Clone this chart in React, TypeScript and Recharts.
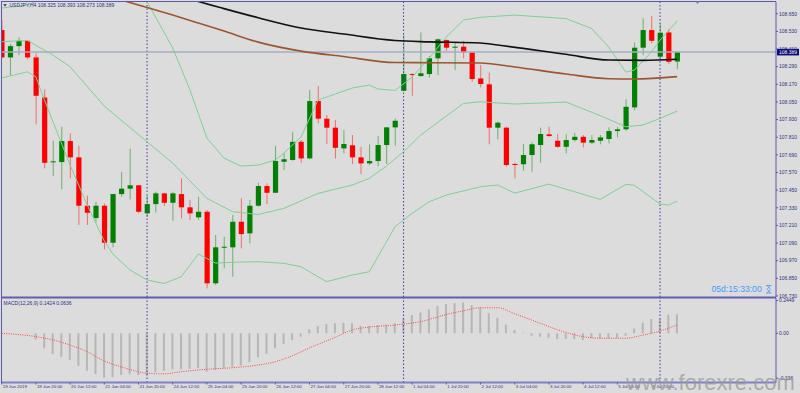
import { ComposedChart, Bar, Line, XAxis, YAxis, ReferenceLine } from "recharts";

// USDJPY H4, 19 Jun 04:00 .. 8 Jul 08:00 (80 bars)
const openP = [
  108.539, 108.353, 108.43, 108.466, 108.353, 108.08, 107.641, 107.641, 107.784, 107.673,
  107.344, 107.26, 107.344, 107.092, 107.423, 107.46, 107.483, 107.292, 107.355, 107.428,
  107.364, 107.423, 107.333, 107.265, 107.303, 106.816, 107.061, 107.061, 107.235, 107.156,
  107.344, 107.478, 107.432, 107.643, 107.655, 107.779, 107.666, 108.056, 107.936, 107.875,
  107.734, 107.755, 107.673, 107.632, 107.648, 107.757, 107.877, 108.126, 108.24, 108.226,
  108.24, 108.347, 108.471, 108.419, 108.426, 108.387, 108.21, 108.17, 107.875, 107.875,
  107.628, 107.626, 107.689, 107.757, 107.83, 107.786, 107.745, 107.791, 107.813, 107.773,
  107.786, 107.798, 107.852, 107.864, 108.013, 108.419, 108.539, 108.358, 108.523, 108.325,
];
const highP = [
  108.607, 108.444, 108.49, 108.471, 108.381, 108.136, 107.786, 107.881, 107.836, 107.752,
  107.412, 107.371, 107.36, 107.425, 107.573, 107.732, 107.485, 107.41, 107.439, 107.432,
  107.439, 107.53, 107.383, 107.405, 107.315, 107.145, 107.133, 107.281, 107.394, 107.383,
  107.5, 107.496, 107.752, 107.7, 107.847, 107.791, 108.131, 108.158, 107.961, 107.927,
  107.859, 107.825, 107.745, 107.762, 107.818, 107.879, 107.936, 108.505, 108.245, 108.523,
  108.362, 108.483, 108.476, 108.453, 108.466, 108.392, 108.301, 108.249, 107.915, 107.881,
  107.636, 107.764, 107.775, 107.875, 107.881, 107.832, 107.83, 107.84, 107.825, 107.825,
  107.825, 107.877, 107.881, 108.068, 108.453, 108.619, 108.634, 108.585, 108.546, 108.393,
];
const lowP = [
  108.35, 108.233, 108.369, 108.34, 107.898, 107.598, 107.546, 107.456, 107.53, 107.213,
  107.213, 107.228, 107.047, 107.061, 107.405, 107.387, 107.292, 107.269, 107.299, 107.342,
  107.242, 107.258, 107.247, 107.247, 106.782, 106.804, 106.918, 106.861, 107.054, 107.088,
  107.337, 107.355, 107.43, 107.587, 107.65, 107.636, 107.66, 107.904, 107.764, 107.664,
  107.7, 107.628, 107.558, 107.621, 107.614, 107.628, 107.752, 108.124, 108.092, 108.223,
  108.217, 108.233, 108.398, 108.267, 108.347, 108.187, 108.149, 107.762, 107.796, 107.609,
  107.53, 107.582, 107.575, 107.636, 107.813, 107.738, 107.7, 107.779, 107.741, 107.764,
  107.762, 107.768, 107.809, 107.854, 107.995, 108.369, 108.449, 108.347, 108.308, 108.273,
];
const closeP = [
  108.353, 108.43, 108.466, 108.353, 108.092, 107.636, 107.646, 107.784, 107.673, 107.344,
  107.296, 107.344, 107.092, 107.423, 107.46, 107.483, 107.303, 107.355, 107.428, 107.364,
  107.428, 107.333, 107.292, 107.303, 106.816, 107.061, 107.065, 107.235, 107.151, 107.344,
  107.478, 107.432, 107.648, 107.66, 107.779, 107.666, 108.056, 107.936, 107.875, 107.738,
  107.764, 107.673, 107.632, 107.648, 107.757, 107.877, 107.922, 108.24, 108.235, 108.245,
  108.347, 108.476, 108.419, 108.426, 108.387, 108.206, 108.172, 107.875, 107.909, 107.621,
  107.623, 107.689, 107.762, 107.832, 107.818, 107.745, 107.791, 107.813, 107.773, 107.791,
  107.809, 107.852, 107.864, 108.017, 108.419, 108.539, 108.466, 108.521, 108.323, 108.389,
];

// indicator lines read at some bars: [bar, value]
const maBlack: [number, number][] = [
  [22, 108.753], [23, 108.734], [26, 108.685], [30, 108.623], [35, 108.553], [40, 108.512],
  [46, 108.468], [50, 108.459], [56, 108.451], [58, 108.437], [66, 108.374], [71, 108.335],
  [75, 108.333], [79, 108.34],
];
const maBrown: [number, number][] = [
  [14, 108.743], [17, 108.693], [20, 108.641], [23, 108.587], [26, 108.532], [30, 108.457],
  [35, 108.396], [40, 108.359], [46, 108.318], [50, 108.317], [56, 108.315], [60, 108.288],
  [66, 108.24], [71, 108.208], [74, 108.206], [79, 108.222],
];
const bbUpper: [number, number][] = [
  [0, 108.689], [3, 108.709], [5, 108.757], [8, 108.845], [12, 108.913], [15, 108.845],
  [17, 108.732], [20, 108.417], [22, 108.135], [24, 107.804], [26, 107.668], [28, 107.614],
  [30, 107.621], [32, 107.655], [33, 107.702], [35, 107.811], [37, 108.063], [39, 108.104],
  [41, 108.145], [43, 108.165], [44, 108.138], [46, 108.128], [48, 108.219], [50, 108.349],
  [52, 108.492], [54, 108.607], [56, 108.626], [60, 108.641], [66, 108.617], [69, 108.549],
  [71, 108.423], [73, 108.253], [74, 108.267], [76, 108.39], [77, 108.471], [79, 108.602],
];
const bbMiddle: [number, number][] = [
  [0, 108.46], [3, 108.468], [6, 108.369], [8, 108.289], [12, 108.022], [17, 107.779],
  [20, 107.634], [24, 107.394], [27, 107.304], [30, 107.284], [33, 107.326], [37, 107.428],
  [41, 107.485], [43, 107.53], [45, 107.614], [47, 107.711], [49, 107.825], [52, 107.954],
  [54, 108.04], [56, 108.051], [60, 108.036], [66, 108.049], [70, 107.957], [73, 107.881],
  [75, 107.893], [77, 107.938], [79, 107.988],
];
const bbLower: [number, number][] = [
  [0, 108.213], [3, 108.255], [4, 108.221], [5, 108.063], [8, 107.62], [10, 107.349],
  [12, 107.104], [13, 107.016], [15, 106.907], [17, 106.839], [19, 106.815], [21, 106.861],
  [23, 107.015], [25, 106.954], [28, 106.961], [30, 106.963], [33, 106.952], [35, 106.929],
  [38, 106.827], [41, 106.872], [43, 106.895], [46, 107.201], [48, 107.292], [50, 107.371],
  [52, 107.417], [56, 107.473], [58, 107.485], [60, 107.43], [64, 107.491], [70, 107.387],
  [73, 107.489], [74, 107.483], [77, 107.355], [78, 107.349], [79, 107.376],
];

// MACD(12,26,9)
const macdMain = [
  -0.002, 0.001, 0.002, -0.003, -0.046, -0.112, -0.155, -0.175, -0.2, -0.243,
  -0.28, -0.305, -0.333, -0.33, -0.313, -0.307, -0.313, -0.313, -0.292, -0.28,
  -0.27, -0.27, -0.268, -0.262, -0.288, -0.275, -0.262, -0.25, -0.243, -0.217,
  -0.18, -0.155, -0.112, -0.08, -0.05, -0.025, 0.03, 0.055, 0.07, 0.075,
  0.079, 0.075, 0.055, 0.055, 0.062, 0.067, 0.075, 0.112, 0.137, 0.157,
  0.18, 0.205, 0.22, 0.225, 0.232, 0.212, 0.192, 0.15, 0.117, 0.067,
  0.025, 0.005, -0.018, -0.025, -0.033, -0.043, -0.043, -0.043, -0.05, -0.037,
  -0.037, -0.037, -0.033, -0.018, 0.037, 0.082, 0.107, 0.107, 0.142, 0.1424,
];
const macdSignal: [number, number][] = [
  [0, 0], [4, -0.025], [6, -0.05], [8, -0.088], [10, -0.138], [12, -0.208], [13, -0.232],
  [15, -0.271], [17, -0.3], [19, -0.304], [21, -0.288], [24, -0.27], [27, -0.258],
  [30, -0.238], [32, -0.213], [34, -0.168], [36, -0.11], [39, -0.03], [41, 0.025],
  [43, 0.047], [46, 0.062], [49, 0.088], [52, 0.141], [54, 0.169], [56, 0.192], [58, 0.192],
  [60, 0.147], [63, 0.075], [65, 0.027], [68, -0.025], [70, -0.037], [73, -0.037],
  [75, -0.013], [77, 0.017], [79, 0.0636],
];

const timeTickIdx = [0, 4, 8, 12, 16, 20, 24, 28, 32, 36, 40, 44, 48, 52, 56, 60, 64, 68, 72, 76];
const timeLabels = [
  "19 Jun 2019", "19 Jun 20:00", "20 Jun 12:00", "21 Jun 04:00", "21 Jun 20:00",
  "24 Jun 12:00", "25 Jun 04:00", "25 Jun 20:00", "26 Jun 12:00", "27 Jun 04:00",
  "27 Jun 20:00", "28 Jun 12:00", "1 Jul 04:00", "1 Jul 20:00", "2 Jul 12:00",
  "3 Jul 04:00", "3 Jul 20:00", "4 Jul 12:00", "5 Jul 04:00", "5 Jul 20:00",
];
const weekStarts = [17, 47, 77];
const priceTicks = [
  108.65, 108.53, 108.41, 108.29, 108.17, 108.05, 107.93, 107.81, 107.69, 107.57, 107.45,
  107.33, 107.21, 107.09, 106.97, 106.85, 106.73,
];
const macdTicks = [0.2449, 0, -0.336];

const FONT = '"Liberation Sans", Arial, sans-serif';
const AXIS = "#5a5aaa";
const TXT = "#30307e";
const X_DOMAIN: [number, number] = [-0.082, 90.56];

const pick = (pairs: [number, number][]) => {
  const m = new Map(pairs);
  return (i: number) => (m.has(i) ? (m.get(i) as number) : null);
};
const fBlack = pick(maBlack);
const fBrown = pick(maBrown);
const fUp = pick(bbUpper);
const fMid = pick(bbMiddle);
const fLow = pick(bbLower);
const fSig = pick(macdSignal);

const rows = openP.map((o, i) => ({
  i,
  o,
  h: highP[i],
  l: lowP[i],
  c: closeP[i],
  black: fBlack(i),
  brown: fBrown(i),
  up: fUp(i),
  mid: fMid(i),
  low: fLow(i),
  macd: macdMain[i],
  signal: fSig(i),
}));

function Candle(props: any) {
  const { x, y, width, height, payload } = props;
  if (!payload || height == null) return null;
  const { o, h, l, c } = payload;
  const cx = x + width / 2;
  const k = height / (h - l || 1);
  const top = y + (h - Math.max(o, c)) * k;
  const bot = y + (h - Math.min(o, c)) * k;
  const col = c >= o ? "#008000" : "#ff0000";
  return (
    <g>
      <line x1={cx} x2={cx} y1={y} y2={y + height} stroke={col} strokeOpacity={0.5} strokeWidth={1} />
      <rect x={cx - 2.6} y={top} width={5.2} height={Math.max(bot - top, 1)} fill={col} />
    </g>
  );
}

function PriceTick(props: any) {
  const { x, y, payload } = props;
  return (
    <text x={x} y={y + 1.8} fontSize={5} fill={TXT} fontFamily={FONT}>
      {payload.value.toFixed(3)}
    </text>
  );
}

function MacdTick(props: any) {
  const { x, y, payload } = props;
  const v = payload.value;
  return (
    <text x={x} y={y + 1.8} fontSize={5} fill={TXT} fontFamily={FONT}>
      {v === 0 ? "0.00" : String(v)}
    </text>
  );
}

function TimeTick(props: any) {
  const { x, y, payload } = props;
  const k = timeTickIdx.indexOf(payload.value);
  return (
    <text x={x + 1} y={y + 3} fontSize={4.4} fill={TXT} fontFamily={FONT}>
      {timeLabels[k]}
    </text>
  );
}

function PriceTag(props: any) {
  const vb = props.viewBox || {};
  const x = (vb.x ?? 0) + (vb.width ?? 0);
  const y = vb.y ?? 0;
  return (
    <g>
      <rect x={x + 1} y={y - 3.3} width={22} height={6.6} fill="#08087a" />
      <text x={x + 3} y={y + 1.8} fontSize={5} fill="#ffffff" fontFamily={FONT}>
        {closeP[closeP.length - 1].toFixed(3)}
      </text>
    </g>
  );
}

export default function App() {
  return (
    <div
      style={{
        position: "fixed",
        left: 0,
        top: 0,
        width: 800,
        height: 393,
        background: "#dcdcdc",
        overflow: "hidden",
        fontFamily: FONT,
      }}
    >
      <div style={{ position: "absolute", left: 0, top: 0 }}>
        <ComposedChart width={800} height={298} data={rows} margin={{ top: 2, right: 0, bottom: 1, left: 1 }}>
          <XAxis dataKey="i" type="number" domain={X_DOMAIN} allowDataOverflow hide />
          <YAxis
            orientation="right"
            width={24}
            domain={[106.723, 108.73]}
            allowDataOverflow
            ticks={priceTicks}
            interval={0}
            tick={<PriceTick />}
            tickSize={2}
            tickMargin={1}
            axisLine={{ stroke: AXIS }}
            tickLine={{ stroke: AXIS }}
          />
          {weekStarts.map((w) => (
            <ReferenceLine key={w} x={w} stroke="#3c3ca6" strokeDasharray="1.5 2" />
          ))}
          <ReferenceLine y={closeP[closeP.length - 1]} stroke="#a9acc2" strokeWidth={1.5} label={<PriceTag />} />
          <Line dataKey="up" type="linear" stroke="#80cf98" strokeWidth={1} dot={false} connectNulls isAnimationActive={false} />
          <Line dataKey="mid" type="linear" stroke="#80cf98" strokeWidth={1} dot={false} connectNulls isAnimationActive={false} />
          <Line dataKey="low" type="linear" stroke="#80cf98" strokeWidth={1} dot={false} connectNulls isAnimationActive={false} />
          <Line dataKey="brown" type="monotone" stroke="#9c5530" strokeWidth={1.6} dot={false} connectNulls isAnimationActive={false} />
          <Line dataKey="black" type="monotone" stroke="#111111" strokeWidth={1.6} dot={false} connectNulls isAnimationActive={false} />
          <Bar dataKey={(d: any) => [d.l, d.h]} barSize={5} shape={<Candle />} isAnimationActive={false} />
        </ComposedChart>
      </div>
      <div style={{ position: "absolute", left: 0, top: 298 }}>
        <ComposedChart width={800} height={95} data={rows} margin={{ top: 0, right: 0, bottom: 0, left: 1 }}>
          <XAxis
            dataKey="i"
            type="number"
            domain={X_DOMAIN}
            allowDataOverflow
            ticks={timeTickIdx}
            interval={0}
            height={10.5}
            tick={<TimeTick />}
            tickSize={2}
            tickMargin={0}
            axisLine={{ stroke: "#8080c8", strokeWidth: 2 }}
            tickLine={{ stroke: AXIS }}
          />
          <YAxis
            orientation="right"
            width={24}
            domain={[-0.369, 0.265]}
            allowDataOverflow
            ticks={macdTicks}
            interval={0}
            tick={<MacdTick />}
            tickSize={2}
            tickMargin={1}
            axisLine={{ stroke: AXIS }}
            tickLine={{ stroke: AXIS }}
          />
          {weekStarts.map((w) => (
            <ReferenceLine key={w} x={w} stroke="#3c3ca6" strokeDasharray="1.5 2" />
          ))}
          <Bar dataKey="macd" barSize={2} fill="#b6b6b6" isAnimationActive={false} />
          <Line dataKey="signal" type="monotone" stroke="#ff4545" strokeWidth={1} strokeDasharray="1 1.3" dot={false} connectNulls isAnimationActive={false} />
        </ComposedChart>
      </div>
      <svg width={800} height={393} style={{ position: "absolute", left: 0, top: 0, pointerEvents: "none" }}>
        <line x1={1.5} y1={1} x2={1.5} y2={383} stroke={AXIS} />
        <line x1={1} y1={1.5} x2={776} y2={1.5} stroke={AXIS} />
        <line x1={1} y1={297.5} x2={776} y2={297.5} stroke="#5f5fb0" strokeWidth={2} />
        <polygon points="3.3,4.3 6.7,4.3 5,6.5" fill="#20205a" />
        <text x={9.5} y={6.9} fontSize={5} fill={TXT} fontFamily={FONT}>
          USDJPY,H4 108.325 108.393 108.273 108.389
        </text>
        <polygon points="695.5,1.5 699.5,1.5 697.5,4" fill="#7c82ac" />
        <text x={3.5} y={305} fontSize={5} fill={TXT} fontFamily={FONT}>
          MACD(12,26,9) 0.1424 0.0636
        </text>
        <text x={711.5} y={292.3} fontSize={8.6} fill="#3d9bff" fontFamily={FONT}>
          05d:15:33:00
        </text>
        <g stroke="#3d9bff" strokeWidth={0.8} fill="none">
          <line x1={766} y1={285.5} x2={771.5} y2={285.5} />
          <line x1={766} y1={293} x2={771.5} y2={293} />
          <polyline points="767,285.5 770.5,289.3 767,293" />
          <polyline points="770.5,285.5 767,289.3 770.5,293" />
        </g>
        <text x={626} y={390} fontSize={22} fill="#9a9a9a" fillOpacity={0.75} fontFamily={FONT}>
          www.forexre.com
        </text>
      </svg>
    </div>
  );
}
